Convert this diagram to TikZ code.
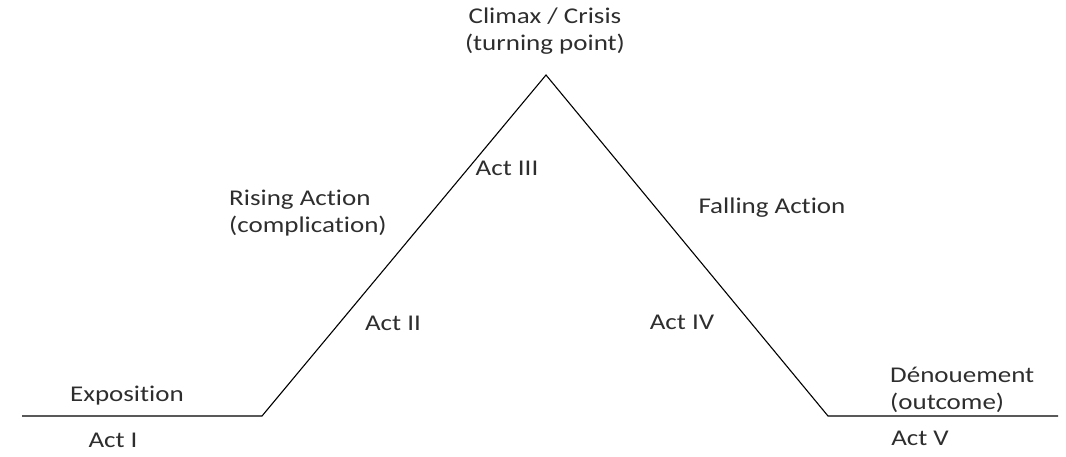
\documentclass[tikz,border=0pt]{standalone}
\usepackage{fontspec}
\setmainfont{Carlito}[FakeStretch=1.2,Ligatures=NoCommon]
\definecolor{txt}{HTML}{2E2E2E}
\begin{document}
\begin{tikzpicture}[x=1pt,y=-1pt,
  lbl/.style={text=txt,font=\fontsize{22.5}{27}\selectfont,inner sep=0pt,align=left},
  plot/.style={line width=1.1pt,black}]
\useasboundingbox (0,0) rectangle (1066,456);
\coordinate (p0) at (22,416);
\coordinate (p1) at (262,416);
\coordinate (p2) at (546,75);
\coordinate (p3) at (828,416);
\coordinate (p4) at (1058,416);
\draw[plot] (p0) -- (p1) -- (p2) -- (p3) -- (p4);
\node[lbl,align=center] (climax) at (545,31) {Climax / Crisis\\(turning point)};
\node[lbl] (act3) at (507,168) {Act III};
\node[lbl,anchor=west] (rising) at (229,213) {Rising Action\\(complication)};
\node[lbl] (act2) at (393,323) {Act II};
\node[lbl] (falling) at (772,208) {Falling Action};
\node[lbl] (act4) at (682,322) {Act IV};
\node[lbl] (expo) at (127,396) {Exposition};
\node[lbl] (act1) at (113,440) {Act I};
\node[lbl,anchor=west] (denoue) at (890,390) {Dénouement\\(outcome)};
\node[lbl] (act5) at (920,438) {Act V};
\end{tikzpicture}
\end{document}
